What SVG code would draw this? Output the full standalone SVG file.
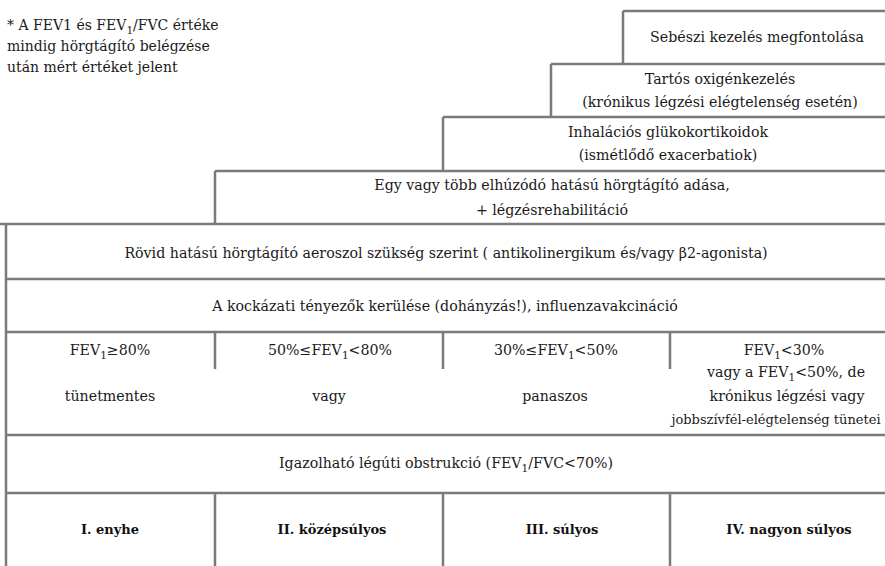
<svg xmlns="http://www.w3.org/2000/svg" width="885" height="566" viewBox="0 0 885 566">
<style>
.t{font-family:"DejaVu Serif","Liberation Serif",serif;font-size:14.2px;fill:#1a1a1a;text-anchor:middle}
.n{font-family:"DejaVu Serif","Liberation Serif",serif;font-size:14px;fill:#1a1a1a}
.b{font-family:"DejaVu Serif","Liberation Serif",serif;font-size:13px;font-weight:bold;fill:#111;text-anchor:middle}
.s{font-size:10.5px}
.g{stroke:#7a7a7a;stroke-width:2.5;fill:none}
</style>
<rect width="885" height="566" fill="#fff"/>
<g id="grid" class="g">
<path d="M623,11H885M623,11V64"/>
<path d="M551,64H885M551,64V117"/>
<path d="M443,117H885M443,117V171"/>
<path d="M215,171H885M215,171V224"/>
<path d="M0,224H885M6,224V566"/>
<path d="M6,279H885M6,332H885M6,435H885M6,493H885"/>
<path d="M215,332V369M443,332V369M670,332V369"/>
<path d="M215,493V566M443,493V566M670,493V566"/>
</g>
<g id="note">
<text class="n" x="7" y="30">* A FEV1 és FEV<tspan class="s" dy="4">1</tspan><tspan dy="-4">/FVC értéke</tspan></text>
<text class="n" x="7" y="51">mindig hörgtágító belégzése</text>
<text class="n" x="7" y="72">után mért értéket jelent</text>
</g>
<g id="sebeszi"><text class="t" x="757" y="42">Sebészi kezelés megfontolása</text></g>
<g id="oxigen"><text class="t" x="720" y="84">Tartós oxigénkezelés</text><text class="t" x="720" y="107">(krónikus légzési elégtelenség esetén)</text></g>
<g id="inhalacios"><text class="t" x="668" y="137">Inhalációs glükokortikoidok</text><text class="t" x="668" y="160">(ismétlődő exacerbatiok)</text></g>
<g id="elhuzodo"><text class="t" x="552" y="190">Egy vagy több elhúzódó hatású hörgtágító adása,</text><text class="t" x="552" y="215">+ légzésrehabilitáció</text></g>
<g id="rovid"><text class="t" x="446" y="258">Rövid hatású hörgtágító aeroszol szükség szerint ( antikolinergikum és/vagy β2-agonista)</text></g>
<g id="kockazati"><text class="t" x="445" y="311">A kockázati tényezők kerülése (dohányzás!), influenzavakcináció</text></g>
<g id="stage1">
<text class="t" x="110" y="355">FEV<tspan class="s" dy="4">1</tspan><tspan dy="-4">≥80%</tspan></text>
<text class="t" x="110" y="401">tünetmentes</text>
</g>
<g id="stage2">
<text class="t" x="330" y="355">50%≤FEV<tspan class="s" dy="4">1</tspan><tspan dy="-4">&lt;80%</tspan></text>
<text class="t" x="329" y="401">vagy</text>
</g>
<g id="stage3">
<text class="t" x="556" y="355">30%≤FEV<tspan class="s" dy="4">1</tspan><tspan dy="-4">&lt;50%</tspan></text>
<text class="t" x="555" y="401">panaszos</text>
</g>
<g id="stage4">
<text class="t" x="784" y="355">FEV<tspan class="s" dy="4">1</tspan><tspan dy="-4">&lt;30%</tspan></text>
<text class="t" x="786" y="377">vagy a FEV<tspan class="s" dy="4">1</tspan><tspan dy="-4">&lt;50%, de</tspan></text>
<text class="t" x="787" y="401">krónikus légzési vagy</text>
<text class="t" x="776" y="424" style="font-size:13px">jobbszívfél-elégtelenség tünetei</text>
</g>
<g id="igazolhato"><text class="t" x="446" y="468">Igazolható légúti obstrukció (FEV<tspan class="s" dy="4">1</tspan><tspan dy="-4">/FVC&lt;70%)</tspan></text></g>
<g id="label1"><text class="b" x="110" y="534">I. enyhe</text></g>
<g id="label2"><text class="b" x="332" y="534">II. középsúlyos</text></g>
<g id="label3"><text class="b" x="562" y="534">III. súlyos</text></g>
<g id="label4"><text class="b" x="789" y="534">IV. nagyon súlyos</text></g>
</svg>
